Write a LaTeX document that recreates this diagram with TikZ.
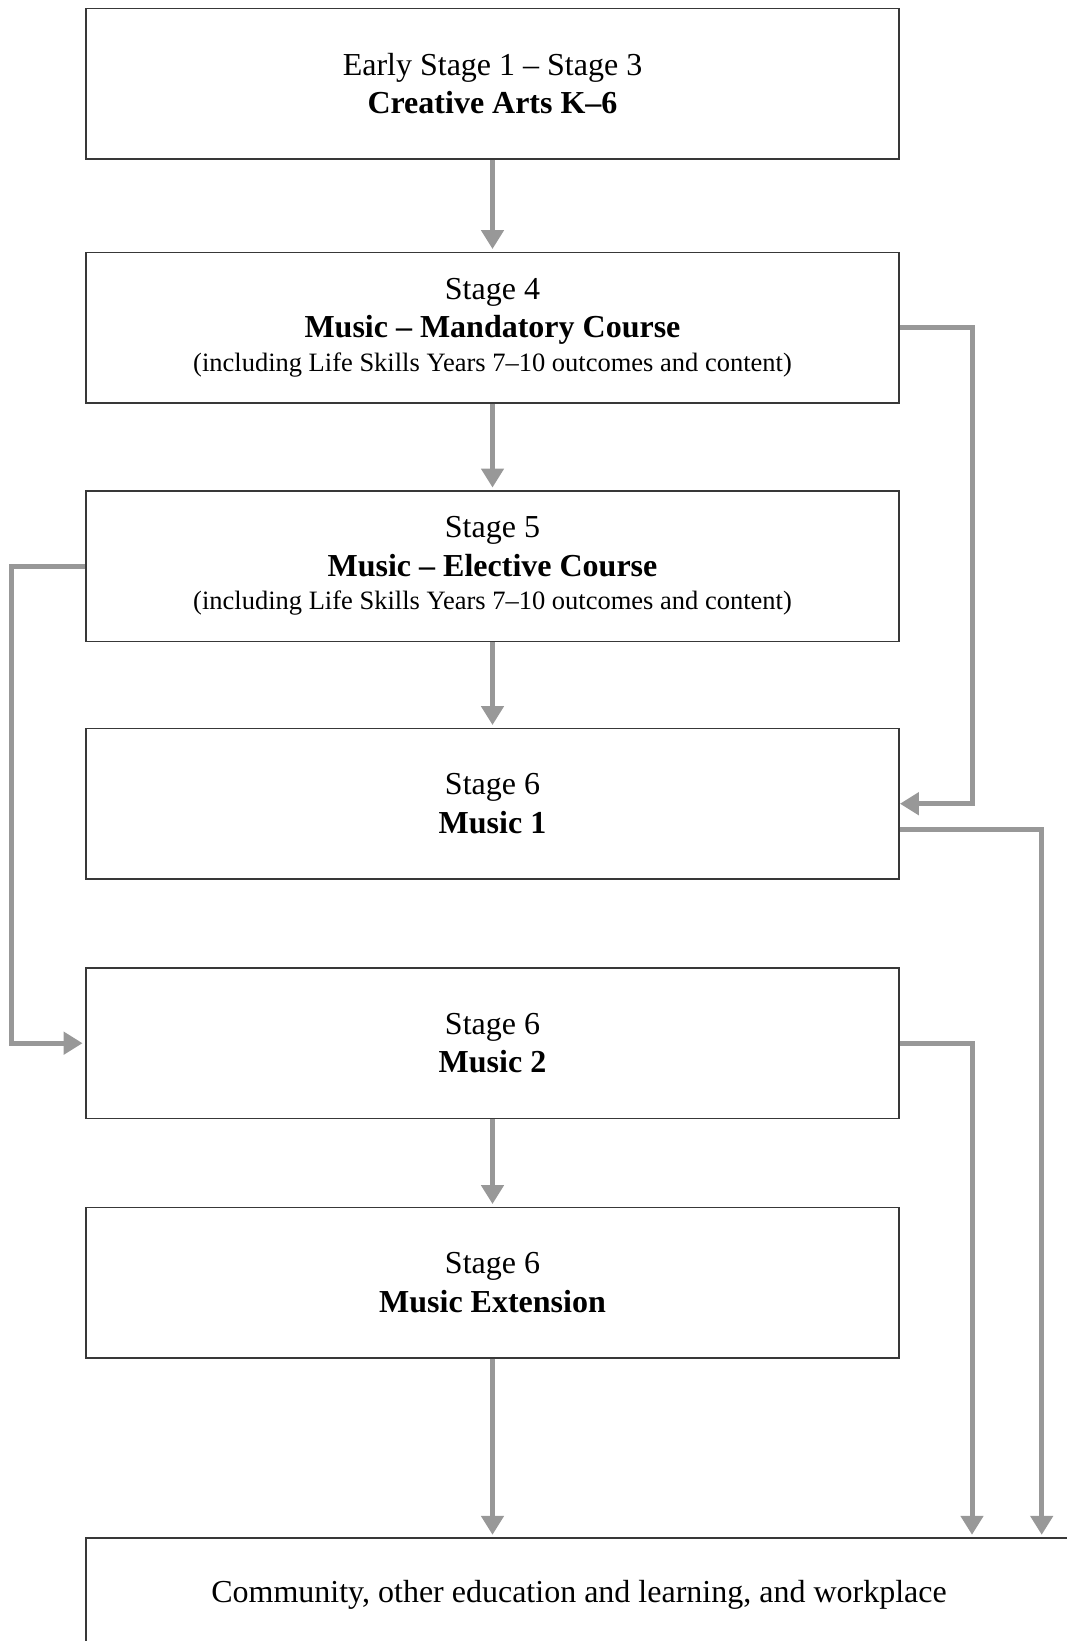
\documentclass[tikz,border=0pt]{standalone}
\usepackage{fontspec}
\setmainfont{Liberation Serif}
\usetikzlibrary{arrows.meta}
\definecolor{linegray}{HTML}{989898}
\definecolor{boxline}{HTML}{383838}
\tikzstyle{stagebox} = [rectangle, minimum width=813pt, minimum height=150.5pt, text centered, align=center, draw=boxline, line width=1.8pt, fill=white, font=\fontsize{32}{38.5}\selectfont]
\tikzstyle{flowline} = [draw=linegray, line width=5pt, -{Triangle[length=19pt,width=22pt]}]
\newcommand{\subline}[1]{{\fontsize{26.5}{32}\selectfont #1}}

\begin{document}
\begin{tikzpicture}[x=1pt, y=-1pt, node distance=239.5pt]
\useasboundingbox (0,0) rectangle (1066,1641);
%Stage blocks
\node (creativearts) [stagebox] at (492.5,83.7) {Early Stage 1 – Stage 3\\\textbf{Creative Arts K–6}};
\node (mandatory) [stagebox,below of=creativearts,yshift=-4.5pt] {Stage 4\\\textbf{Music – Mandatory Course}\\[-5pt]\subline{(including Life Skills Years 7–10 outcomes and content)}};
\node (elective) [stagebox,below of=mandatory,yshift=1pt] {Stage 5\\\textbf{Music – Elective Course}\\[-5pt]\subline{(including Life Skills Years 7–10 outcomes and content)}};
\node (musicone) [stagebox,below of=elective,yshift=2pt] {Stage 6\\\textbf{Music 1}};
\node (musictwo) [stagebox,below of=musicone] {Stage 6\\\textbf{Music 2}};
\node (extension) [stagebox,below of=musictwo] {Stage 6\\\textbf{Music Extension}};
\node (workplace) [stagebox,below of=extension,xshift=86.5pt,yshift=-73pt,minimum width=986pt,minimum height=114pt] {Community, other education and learning, and workplace};

%Arrows
\draw [flowline,shorten >=2.5pt] (creativearts) -- (mandatory);
\draw [flowline,shorten >=2.5pt] (mandatory) -- (elective);
\draw [flowline,shorten >=2.5pt] (elective) -- (musicone);
\draw [flowline,shorten >=2.5pt] (musictwo) -- (extension);
\draw [flowline,shorten >=2.5pt] (extension.south) -- (extension.south |- workplace.north);
\draw [flowline] (mandatory.east) -- ++(73pt,0) |- (musicone.east);
\draw [flowline,shorten >=2.5pt] ([yshift=-25.5pt]musicone.east) -| ([xshift=462.7pt]workplace.north);
\draw [flowline,shorten >=2.5pt] (musictwo.east) -| ([xshift=393pt]workplace.north);
\draw [flowline,shorten >=2.5pt] (elective.west) -- ++(-73.3pt,0) |- (musictwo.west);
\end{tikzpicture}
\end{document}
